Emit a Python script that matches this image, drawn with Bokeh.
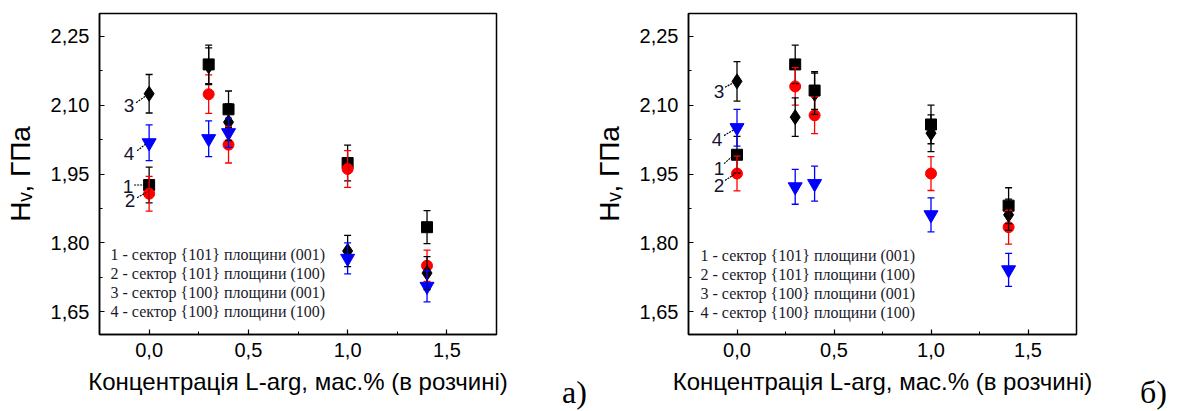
from bokeh.plotting import figure
from bokeh.layouts import row
from bokeh.models import (ColumnDataSource, Range1d, FixedTicker, CustomJSTickFormatter,
                          Whisker, TeeHead, Label, Div)
from bokeh.core.properties import value
from bokeh.embed import file_html
from bokeh.resources import INLINE

# ---------------- data ----------------
conc = [0.0, 0.3, 0.4, 1.0, 1.4]

legend_texts = ["1 - сектор {101} площини (001)",
                "2 - сектор {101} площини (100)",
                "3 - сектор {100} площини (001)",
                "4 - сектор {100} площини (100)"]
series_ids = ["1", "2", "3", "4"]
panel_letters = ["а)", "б)"]

# panel а)
a_s1 = [1.926, 2.189, 2.091, 1.974, 1.834]
a_s1_err = [0.039, 0.042, 0.040, 0.039, 0.036]
a_s2 = [1.907, 2.124, 2.014, 1.961, 1.750]
a_s2_err = [0.038, 0.042, 0.040, 0.040, 0.034]
a_s3 = [2.125, 2.185, 2.063, 1.782, 1.734]
a_s3_err = [0.042, 0.040, 0.040, 0.034, 0.036]
a_s4 = [2.018, 2.027, 2.040, 1.766, 1.705]
a_s4_err = [0.039, 0.039, 0.032, 0.034, 0.034]

# panel б)
b_s1 = [1.992, 2.189, 2.132, 2.058, 1.881]
b_s1_err = [0.040, 0.042, 0.041, 0.042, 0.039]
b_s2 = [1.951, 2.141, 2.078, 1.951, 1.834]
b_s2_err = [0.038, 0.041, 0.040, 0.037, 0.037]
b_s3 = [2.152, 2.074, 2.125, 2.039, 1.861]
b_s3_err = [0.043, 0.042, 0.045, 0.040, 0.034]
b_s4 = [2.051, 1.922, 1.929, 1.861, 1.741]
b_s4_err = [0.040, 0.038, 0.038, 0.037, 0.036]

y_ticks = [1.65, 1.80, 1.95, 2.10, 2.25]
x_ticks = [0.0, 0.5, 1.0, 1.5]

colors = ["#000000", "#ff0000", "#0000ff"]
SANS = "Liberation Sans"
SERIF = "Liberation Serif"
H = 411


def make_panel(series, errs, width, bl, br, bt, bb, lab_offsets, leg_dx, leg_dy0):
    p = figure(width=width, height=H, output_backend="svg", toolbar_location=None,
               x_range=Range1d(-0.25, 1.75), y_range=Range1d(1.60, 2.30),
               min_border_left=bl, min_border_right=br, min_border_top=bt, min_border_bottom=bb,
               background_fill_color="white", border_fill_color="white")
    p.grid.visible = False
    p.outline_line_color = "black"
    p.outline_line_width = 1.5

    p.yaxis.ticker = FixedTicker(ticks=y_ticks, minor_ticks=[1.725, 1.875, 2.025, 2.175])
    p.xaxis.ticker = FixedTicker(ticks=x_ticks, minor_ticks=[0.25, 0.75, 1.25])
    p.yaxis.formatter = CustomJSTickFormatter(code="return tick.toFixed(2).replace('.', ',');")
    p.xaxis.formatter = CustomJSTickFormatter(code="return tick.toFixed(1).replace('.', ',');")
    for ax in (p.xaxis[0], p.yaxis[0]):
        ax.major_tick_in = 5
        ax.major_tick_out = 0
        ax.minor_tick_in = 3
        ax.minor_tick_out = 0
        ax.axis_line_width = 1.5
        ax.major_tick_line_width = 1.2
        ax.major_label_text_font = SANS
        ax.major_label_text_font_size = "20px"
        ax.major_label_text_color = "black"
        ax.axis_label_text_font = SANS
        ax.axis_label_text_font_style = "normal"
        ax.axis_label_text_color = "black"
    p.yaxis.major_label_standoff = 10
    p.xaxis.major_label_standoff = 8
    p.yaxis.axis_label = "Hᵥ, ГПа"
    p.yaxis.axis_label_text_font_size = "28px"
    p.yaxis.axis_label_standoff = 12
    p.xaxis.axis_label = "Концентрація L-arg, мас.% (в розчині)"
    p.xaxis.axis_label_text_font_size = "24px"
    p.xaxis.axis_label_standoff = 8

    fw = width - bl - br
    fh = H - bt - bb
    pxx = 2.0 / fw
    pxy = 0.70 / fh

    markers = [("square", colors[0], 11), ("circle", colors[1], 11),
               ("diamond", colors[0], 15), ("inverted_triangle", colors[2], 14)]
    for (mk, col, sz), ys, er in zip(markers, series, errs):
        src = ColumnDataSource(dict(x=conc, y=ys,
                                    upper=[v + e for v, e in zip(ys, er)],
                                    lower=[v - e for v, e in zip(ys, er)]))
        w = Whisker(base="x", upper="upper", lower="lower", source=src, dimension="height",
                    line_color=col, line_width=1.3, level="glyph",
                    upper_head=TeeHead(size=7, line_color=col, line_width=1.3),
                    lower_head=TeeHead(size=7, line_color=col, line_width=1.3))
        p.add_layout(w)
        p.scatter("x", "y", source=src, marker=mk, size=sz, fill_color=col, line_color=col)

    # numbered labels with leader lines at the first concentration
    for sid, ys, (dx, dy, l0x, l0y, l1x, l1y) in zip(series_ids, series, lab_offsets):
        y0 = ys[0]
        x0 = conc[0]
        p.text(x=[x0], y=[y0], text=[sid], x_offset=dx, y_offset=dy,
               text_font=value(SANS), text_font_size="19px", text_color="#151530",
               text_align="center", text_baseline="middle")
        p.segment(x0=[x0 + l0x * pxx], y0=[y0 - l0y * pxy], x1=[x0 + l1x * pxx], y1=[y0 - l1y * pxy],
                  line_color="black", line_width=1.2, line_dash="2 1")

    # text legend
    for i, t in enumerate(legend_texts):
        p.add_layout(Label(x=-0.25, y=1.60, x_units="data", y_units="data",
                           x_offset=leg_dx, y_offset=leg_dy0 - 19 * i, text=t,
                           text_font=SERIF, text_font_size="16px", text_color="#1a1a2a",
                           text_baseline="middle", text_align="left"))
    return p


def letter_div(letter, width, left_px, top_px):
    html = ('<div style="margin-top:%dpx;margin-left:%dpx;font-family:\'Liberation Serif\';'
            'font-size:32px;line-height:32px;color:black;white-space:nowrap;">%s</div>'
            % (top_px, left_px, letter))
    return Div(text=html, width=width, height=H, margin=0)


p1 = make_panel([a_s1, a_s2, a_s3, a_s4], [a_s1_err, a_s2_err, a_s3_err, a_s4_err],
                width=556, bl=99, br=60, bt=11, bb=77,
                lab_offsets=[(-21, 1, -15, 0, -5, 0),
                             (-19, 7, -12, 4, -3, -1),
                             (-20, 12, -13, 9, -3, 2),
                             (-20, 11, -12, 8, -3, 1)],
                leg_dx=11, leg_dy0=80)
l1 = letter_div(panel_letters[0], 34, 6, 376)

p2 = make_panel([b_s1, b_s2, b_s3, b_s4], [b_s1_err, b_s2_err, b_s3_err, b_s4_err],
                width=548, bl=97, br=62, bt=13, bb=74,
                lab_offsets=[(-18, 14, -13, 9, -4, 1),
                             (-18, 12, -12, 7, -3, 1),
                             (-18, 10, -12, 6, -3, 1),
                             (-20, 12, -13, 8, -3, 2)],
                leg_dx=12, leg_dy0=79)
l2 = letter_div(panel_letters[1], 41, 2, 376)

layout = row(p1, l1, p2, l2)
open("out.html", "w").write(file_html(layout, INLINE))
